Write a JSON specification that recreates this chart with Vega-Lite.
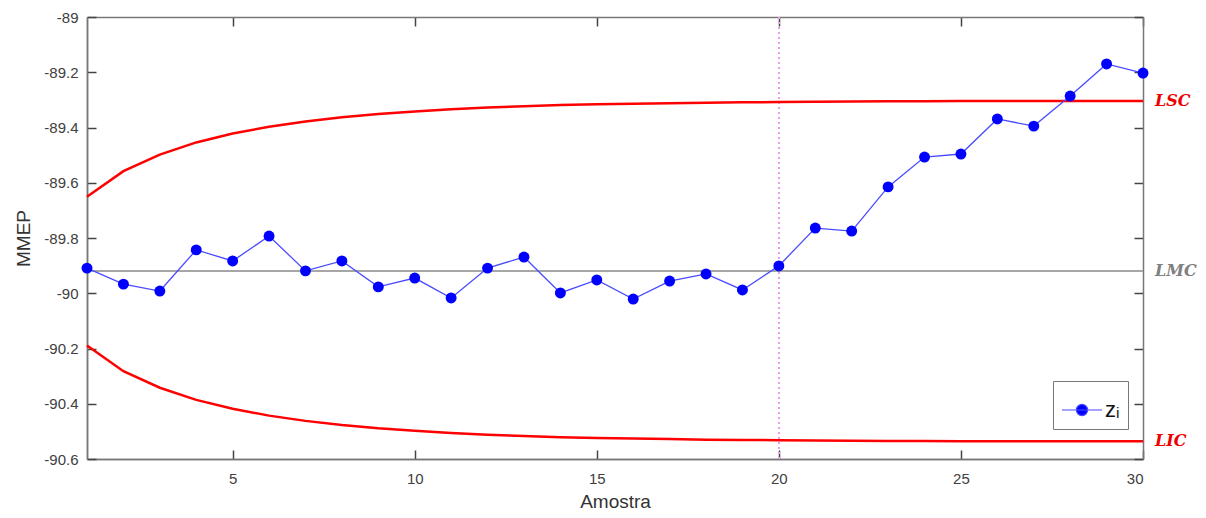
{
  "$schema": "https://vega.github.io/schema/vega-lite/v6.json",
  "width": 1056,
  "height": 442,
  "autosize": {"type": "none"},
  "padding": {"left": 87, "top": 17, "right": 63, "bottom": 59},
  "background": "white",
  "config": {
    "view": {"stroke": null},
    "font": "Liberation Sans",
    "axis": {
      "domainColor": "#777777",
      "domainWidth": 1.5,
      "tickColor": "#444444",
      "tickWidth": 1.5,
      "tickSize": 9,
      "labelColor": "#404040",
      "labelFont": "Liberation Sans",
      "labelFontSize": 15,
      "titleFont": "Liberation Sans",
      "titleFontWeight": "normal",
      "titleColor": "#333333",
      "titleFontSize": 19,
      "grid": false
    }
  },
  "datasets": {
    "main": [
      {"i": 1, "z": -89.909, "lsc": -89.651, "lic": -90.189},
      {"i": 2, "z": -89.967, "lsc": -89.558, "lic": -90.282},
      {"i": 3, "z": -89.992, "lsc": -89.498, "lic": -90.342},
      {"i": 4, "z": -89.843, "lsc": -89.454, "lic": -90.386},
      {"i": 5, "z": -89.883, "lsc": -89.422, "lic": -90.418},
      {"i": 6, "z": -89.793, "lsc": -89.397, "lic": -90.443},
      {"i": 7, "z": -89.919, "lsc": -89.378, "lic": -90.462},
      {"i": 8, "z": -89.883, "lsc": -89.363, "lic": -90.477},
      {"i": 9, "z": -89.977, "lsc": -89.351, "lic": -90.489},
      {"i": 10, "z": -89.945, "lsc": -89.342, "lic": -90.498},
      {"i": 11, "z": -90.017, "lsc": -89.334, "lic": -90.506},
      {"i": 12, "z": -89.909, "lsc": -89.328, "lic": -90.512},
      {"i": 13, "z": -89.869, "lsc": -89.323, "lic": -90.517},
      {"i": 14, "z": -89.999, "lsc": -89.319, "lic": -90.521},
      {"i": 15, "z": -89.952, "lsc": -89.316, "lic": -90.524},
      {"i": 16, "z": -90.021, "lsc": -89.314, "lic": -90.526},
      {"i": 17, "z": -89.956, "lsc": -89.312, "lic": -90.528},
      {"i": 18, "z": -89.930, "lsc": -89.310, "lic": -90.530},
      {"i": 19, "z": -89.988, "lsc": -89.309, "lic": -90.531},
      {"i": 20, "z": -89.901, "lsc": -89.308, "lic": -90.532},
      {"i": 21, "z": -89.764, "lsc": -89.307, "lic": -90.533},
      {"i": 22, "z": -89.775, "lsc": -89.306, "lic": -90.534},
      {"i": 23, "z": -89.615, "lsc": -89.305, "lic": -90.535},
      {"i": 24, "z": -89.507, "lsc": -89.305, "lic": -90.535},
      {"i": 25, "z": -89.496, "lsc": -89.304, "lic": -90.536},
      {"i": 26, "z": -89.369, "lsc": -89.304, "lic": -90.536},
      {"i": 27, "z": -89.395, "lsc": -89.304, "lic": -90.536},
      {"i": 28, "z": -89.286, "lsc": -89.304, "lic": -90.536},
      {"i": 29, "z": -89.170, "lsc": -89.304, "lic": -90.536},
      {"i": 30, "z": -89.203, "lsc": -89.304, "lic": -90.536}
    ]
  },
  "data": {"name": "main"},
  "resolve": {"axis": {"x": "independent", "y": "independent"}},
  "layer": [
    {
      "mark": {"type": "rule", "color": "#a6a6a6", "strokeWidth": 1.5},
      "encoding": {
        "y": {"datum": -89.92, "type": "quantitative", "scale": {"domain": [-90.6, -89], "nice": false, "zero": false}, "axis": null}
      }
    },
    {
      "mark": {"type": "rule", "color": "#e8a0e8", "strokeWidth": 1.2, "strokeDash": [2, 3]},
      "encoding": {
        "x": {"datum": 20, "type": "quantitative", "scale": {"domain": [1, 30], "nice": false}, "axis": null}
      }
    },
    {
      "mark": {"type": "line", "color": "#ff0000", "strokeWidth": 2.5},
      "encoding": {
        "x": {"field": "i", "type": "quantitative", "scale": {"domain": [1, 30], "nice": false},
          "axis": {"orient": "bottom", "values": [5, 10, 15, 20, 25, 30], "title": "Amostra", "ticks": false, "labelPadding": 12, "titlePadding": 6}},
        "y": {"field": "lsc", "type": "quantitative", "scale": {"domain": [-90.6, -89], "nice": false, "zero": false},
          "axis": {"orient": "left", "values": [-89, -89.2, -89.4, -89.6, -89.8, -90, -90.2, -90.4, -90.6], "title": "MMEP", "ticks": false, "labelPadding": 9, "titlePadding": 10,
            "labelExpr": "replace(format(datum.value, '~g'), '\u2212', '-')"}}
      }
    },
    {
      "mark": {"type": "line", "color": "#ff0000", "strokeWidth": 2.5},
      "encoding": {
        "x": {"field": "i", "type": "quantitative", "scale": {"domain": [1, 30], "nice": false},
          "axis": {"orient": "top", "offset": -442, "values": [5, 10, 15, 20, 25, 30], "labels": false, "ticks": true, "tickSize": 9, "title": null}},
        "y": {"field": "lic", "type": "quantitative", "scale": {"domain": [-90.6, -89], "nice": false, "zero": false},
          "axis": {"orient": "right", "offset": -1056, "values": [-89, -89.2, -89.4, -89.6, -89.8, -90, -90.2, -90.4, -90.6], "labels": false, "ticks": true, "tickSize": 9, "title": null}}
      }
    },
    {
      "mark": {"type": "line", "color": "#4a4aff", "strokeWidth": 1.3},
      "encoding": {
        "x": {"field": "i", "type": "quantitative", "scale": {"domain": [1, 30], "nice": false},
          "axis": {"orient": "bottom", "offset": -442, "values": [5, 10, 15, 20, 25, 30], "labels": false, "ticks": true, "tickSize": 9, "title": null}},
        "y": {"field": "z", "type": "quantitative", "scale": {"domain": [-90.6, -89], "nice": false, "zero": false},
          "axis": {"orient": "left", "offset": -1056, "values": [-89, -89.2, -89.4, -89.6, -89.8, -90, -90.2, -90.4, -90.6], "labels": false, "ticks": true, "tickSize": 9, "title": null}}
      }
    },
    {
      "mark": {"type": "point", "filled": true, "size": 120, "opacity": 1},
      "encoding": {
        "x": {"field": "i", "type": "quantitative", "scale": {"domain": [1, 30], "nice": false}, "axis": null},
        "y": {"field": "z", "type": "quantitative", "scale": {"domain": [-90.6, -89], "nice": false, "zero": false}, "axis": null},
        "color": {"datum": "zᵢ", "type": "nominal", "scale": {"range": ["#0000ff"]},
          "legend": {
            "title": null,
            "orient": "none",
            "legendX": 966,
            "legendY": 364,
            "direction": "vertical",
            "strokeColor": "#777777",
            "fillColor": "white",
            "padding": 8,
            "labelFontSize": 22,
            "labelFont": "Liberation Sans",
            "labelColor": "#111111",
            "labelOffset": 2,
            "symbolType": "M-1,0H1M-0.28,0A0.28,0.28 0 1,1 0.28,0A0.28,0.28 0 1,1 -0.28,0Z",
            "symbolSize": 1600,
            "symbolStrokeWidth": 1.2,
            "symbolStrokeColor": "#4a4aff",
            "symbolFillColor": "#0000ff",
            "symbolOpacity": 1,
            "encode": {"symbols": {"update": {"stroke": {"value": "#4a4aff"}, "strokeWidth": {"value": 1.2}, "fill": {"value": "#0000ff"}, "opacity": {"value": 1}}}}
          }}
      }
    },
    {
      "transform": [{"filter": "datum.i == 30"}],
      "mark": {"type": "text", "align": "left", "baseline": "middle", "dx": 12, "font": "DejaVu Serif", "fontStyle": "italic", "fontWeight": "bold", "fontSize": 16, "color": "#ee0000"},
      "encoding": {
        "x": {"field": "i", "type": "quantitative", "scale": {"domain": [1, 30], "nice": false}, "axis": null},
        "y": {"field": "lsc", "type": "quantitative", "scale": {"domain": [-90.6, -89], "nice": false, "zero": false}, "axis": null},
        "text": {"value": "LSC"}
      }
    },
    {
      "transform": [{"filter": "datum.i == 30"}],
      "mark": {"type": "text", "align": "left", "baseline": "middle", "dx": 12, "font": "DejaVu Serif", "fontStyle": "italic", "fontWeight": "bold", "fontSize": 16, "color": "#ee0000"},
      "encoding": {
        "x": {"field": "i", "type": "quantitative", "scale": {"domain": [1, 30], "nice": false}, "axis": null},
        "y": {"field": "lic", "type": "quantitative", "scale": {"domain": [-90.6, -89], "nice": false, "zero": false}, "axis": null},
        "text": {"value": "LIC"}
      }
    },
    {
      "transform": [{"filter": "datum.i == 30"}],
      "mark": {"type": "text", "align": "left", "baseline": "middle", "dx": 12, "font": "DejaVu Serif", "fontStyle": "italic", "fontWeight": "bold", "fontSize": 16, "color": "#808080"},
      "encoding": {
        "x": {"field": "i", "type": "quantitative", "scale": {"domain": [1, 30], "nice": false}, "axis": null},
        "y": {"datum": -89.92, "type": "quantitative", "scale": {"domain": [-90.6, -89], "nice": false, "zero": false}, "axis": null},
        "text": {"value": "LMC"}
      }
    }
  ]
}
